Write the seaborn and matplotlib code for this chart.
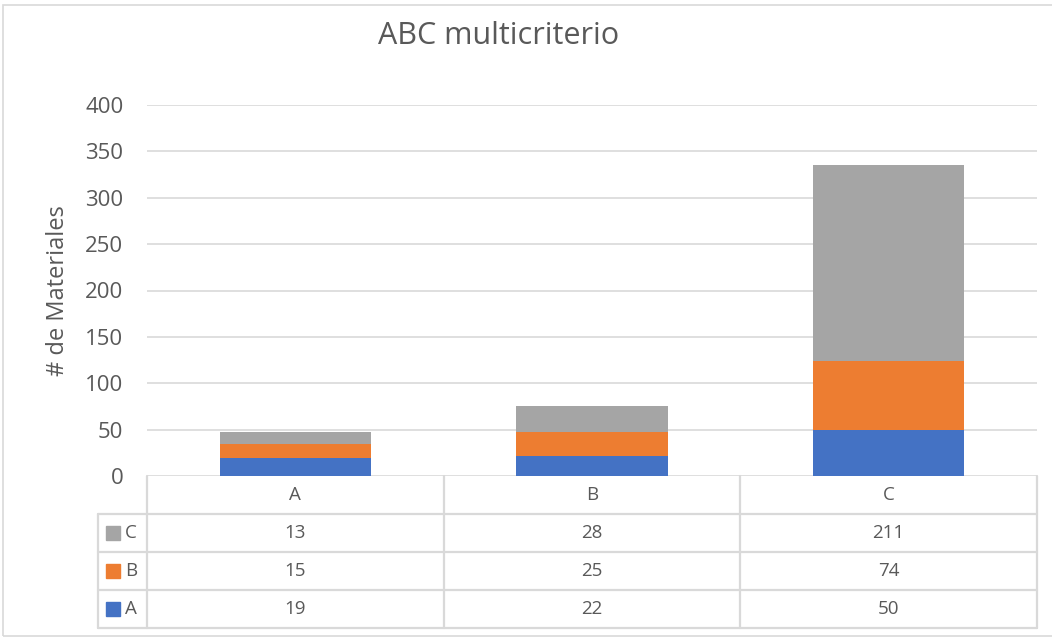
import matplotlib
matplotlib.use("Agg")
import matplotlib.pyplot as plt
import seaborn as sns
import pandas as pd
import numpy as np
from matplotlib.patches import Rectangle

categories = ["A", "B", "C"]
series_names = ["A", "B", "C"]
vals_A = [19, 22, 50]
vals_B = [15, 25, 74]
vals_C = [13, 28, 211]
colors = {"A": "#4472C4", "B": "#ED7D31", "C": "#A5A5A5"}
yticks = [0, 50, 100, 150, 200, 250, 300, 350, 400]

sns.set_theme(style="white")
plt.rcParams['font.family'] = ['Open Sans', 'DejaVu Sans']
txt = "#595959"
grid = "#D9D9D9"

W, H = 1052, 639
fig = plt.figure(figsize=(W / 100, H / 100), dpi=100)

def fx(px):
    return px / W
def fy(py):
    return 1 - py / H

# outer border
fig.patches.append(Rectangle((fx(3), fy(636)), fx(1052 + 10) - fx(3), fy(5) - fy(636),
                             transform=fig.transFigure, fill=False, edgecolor=grid, lw=1.2))

ax_w = fx(1037) - fx(147)
ax = fig.add_axes([fx(147), fy(476), ax_w, fy(105) - fy(476)])

df = pd.DataFrame({"cat": categories, "A": vals_A, "B": vals_B, "C": vals_C})
df["AB"] = df["A"] + df["B"]
df["ABC"] = df["AB"] + df["C"]

for col, sname in [("ABC", "C"), ("AB", "B"), ("A", "A")]:
    sns.barplot(data=df, x="cat", y=col, color=colors[sname], width=0.51,
                saturation=1, ax=ax, zorder=3, linewidth=0, edgecolor="none")

ax.set_ylim(0, 400)
ax.set_xlim(-0.5, 2.5)
ax.set_yticks(yticks)
ax.set_yticklabels([str(t) for t in yticks], fontsize=16, color=txt)
ax.tick_params(axis="y", length=0, pad=17)
ax.set_xticks([])
ax.set_xlabel("")
ax.set_ylabel("# de Materiales", fontsize=17, color=txt)
ax.yaxis.set_label_coords((70 - 147) / 890, 0.5)
for s in ax.spines.values():
    s.set_visible(False)
ax.yaxis.grid(True, color=grid, lw=1.2, zorder=0)
ax.set_axisbelow(True)

fig.text(fx(499), fy(36), "ABC multicriterio", ha="center", va="center",
         fontsize=22, color=txt)

# data table
tab = fig.add_axes([fx(98), fy(628), fx(1037) - fx(98), fy(476) - fy(628)])
lab_w = 49 / 297.0
tab.set_xlim(-0.5 - lab_w, 2.5)
tab.set_ylim(4, 0)
tab.axis("off")
lw = 1.6
fs = 13.5
for xv in [-0.5, 0.5, 1.5, 2.5]:
    tab.plot([xv, xv], [0, 4], color=grid, lw=lw, clip_on=False)
tab.plot([-0.5 - lab_w, -0.5 - lab_w], [1, 4], color=grid, lw=lw, clip_on=False)
for yv in [1, 2, 3, 4]:
    tab.plot([-0.5 - lab_w, 2.5], [yv, yv], color=grid, lw=lw, clip_on=False)
for i, c in enumerate(categories):
    tab.text(i, 0.5, c, ha="center", va="center", fontsize=fs, color=txt)
rows = [("C", vals_C), ("B", vals_B), ("A", vals_A)]
for r, (name, vals) in enumerate(rows):
    yc = r + 1.5
    for i, v in enumerate(vals):
        tab.text(i, yc, str(v), ha="center", va="center", fontsize=fs, color=txt)
    tab.add_patch(Rectangle((-0.5 - lab_w + 0.027, yc - 0.18), 0.047, 0.36,
                            color=colors[name], clip_on=False))
    tab.text(-0.5 - lab_w + 0.092, yc, name, ha="left", va="center", fontsize=fs, color=txt)

fig.savefig("out.png", dpi=100)
